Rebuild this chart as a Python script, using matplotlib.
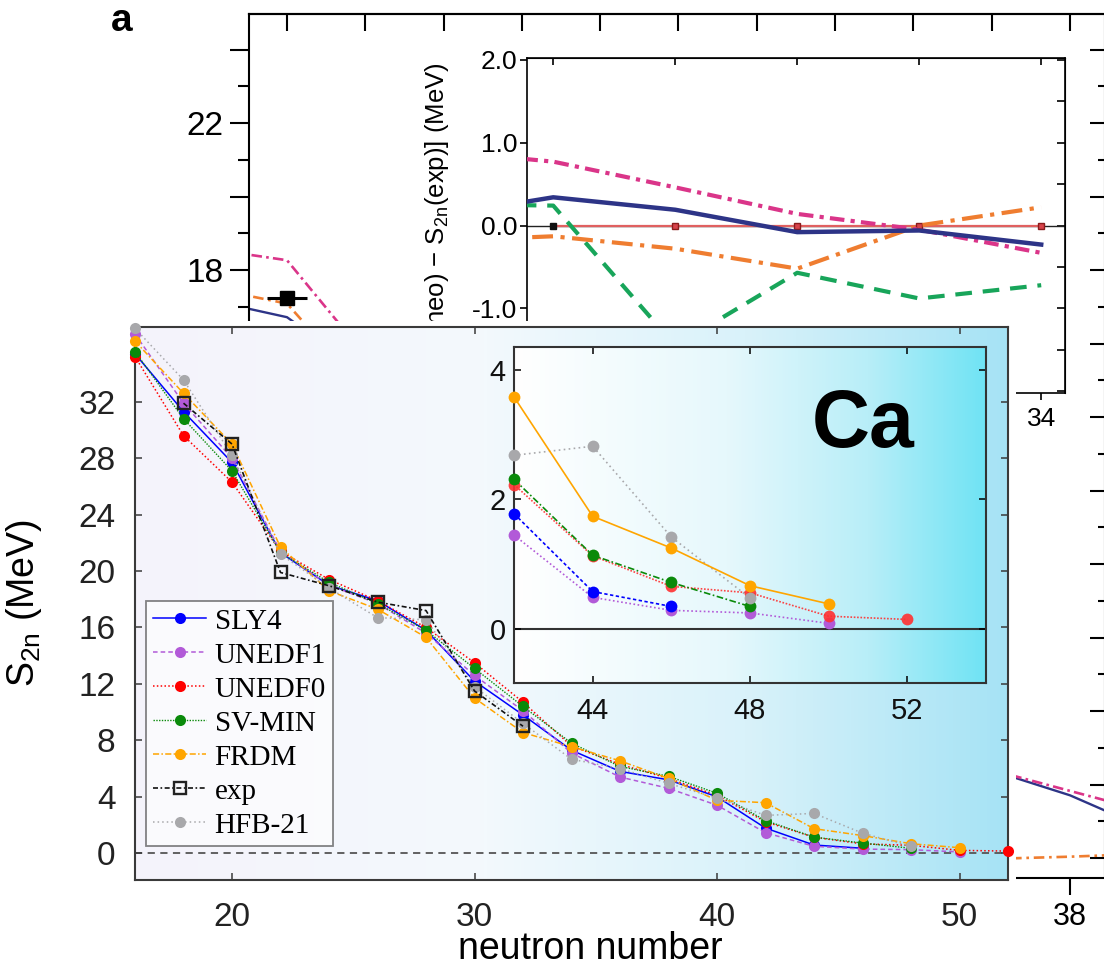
import numpy as np
import matplotlib
matplotlib.use('Agg')
import matplotlib.pyplot as plt
from matplotlib.colors import LinearSegmentedColormap
from matplotlib.ticker import MultipleLocator, FixedLocator, FuncFormatter

plt.rcParams.update({
    'font.family': 'Liberation Sans',
    'mathtext.default': 'regular',
})

W, H = 1104, 968

# ---- panel a: S2n vs N (only the uncovered bits are drawn) ----
n_a = [27, 28, 29, 37, 38, 39]
s2n_a_navy = [17.19, 16.72, 15.2, 4.39, 3.71, 2.78]
s2n_a_pink = [18.58, 18.27, 15.68, 4.40, 3.83, 3.26]
s2n_a_orange = [17.52, 17.09, 14.7, 1.98, 2.04, 2.12]
n_a_exp = [28]
s2n_a_exp = [17.24]
n_a_exp_err = [0.26]

# ---- panel a inset: S2n(theo) - S2n(exp) ----
n_diff = [25, 26, 28, 30, 32, 34]
diff_navy = [0.22, 0.34, 0.19, -0.08, -0.06, -0.23]
diff_pink = [0.84, 0.77, 0.46, 0.14, -0.05, -0.33]
diff_orange = [-0.16, -0.13, -0.28, -0.52, 0.0, 0.22]
diff_green = [0.25, 0.24, -1.45, -0.57, -0.88, -0.72]
n_diff_exp = [26, 28, 30, 32, 34]
diff_exp = [0.0, 0.0, 0.0, 0.0, 0.0]

# ---- Ca two-neutron separation energies (MeV) ----
nan = np.nan
n_ca = [16, 18, 20, 22, 24, 26, 28, 30, 32, 34, 36, 38, 40, 42, 44, 46, 48, 50, 52]
s2n_sly4 = [35.4, 31.3, 27.7, 21.3, 19.0, 17.9, 15.8, 12.2, 9.8, 7.3, 5.8, 5.2, 4.0,
            1.78, 0.58, 0.35, nan, nan, nan]
s2n_unedf1 = [36.8, 31.9, 28.0, 21.4, 19.0, 17.7, 15.6, 12.6, 10.1, 7.1, 5.4, 4.6, 3.4,
              1.45, 0.49, 0.29, 0.25, 0.09, nan]
s2n_unedf0 = [35.2, 29.6, 26.3, 21.4, 19.4, 17.9, 16.0, 13.5, 10.7, 7.6, 6.3, 5.3, 4.1,
              2.23, 1.13, 0.66, 0.56, 0.20, 0.15]
s2n_svmin = [35.55, 30.8, 27.1, 21.3, 19.2, 17.7, 15.8, 13.1, 10.4, 7.8, 6.15, 5.45, 4.25,
             2.31, 1.14, 0.72, 0.35, nan, nan]
s2n_frdm = [36.3, 32.6, 29.0, 21.7, 18.6, 17.3, 15.3, 11.0, 8.55, 7.55, 6.55, 5.3, 3.75,
            3.58, 1.74, 1.25, 0.67, 0.39, nan]
s2n_exp = [nan, 31.9, 29.0, 19.9, 18.96, 17.8, 17.2, 11.5, 9.0, nan, nan, nan, nan,
           nan, nan, nan, nan, nan, nan]
s2n_hfb21 = [37.2, 33.55, 28.2, 21.2, 18.8, 16.7, 16.55, 11.8, 9.2, 6.66, 6.0, 4.95, 3.9,
             2.68, 2.82, 1.42, 0.48, nan, nan]


def rect_px(x0, y0, x1, y1):
    """Axes rectangle from pixel corners (origin top-left)."""
    return [x0 / W, 1 - y1 / H, (x1 - x0) / W, (y1 - y0) / H]


def only(values, fmt):
    """Tick formatter that labels just the listed values."""
    return FuncFormatter(lambda v, p: fmt.format(v)
                         if any(abs(v - k) < 1e-6 for k in values) else '')


fig = plt.figure(figsize=(W / 100, H / 100), dpi=100)

# ================= panel a (background figure) =================
NAVY, PINK, ORANGE, GREEN = '#2d3487', '#da3589', '#ef7d30', '#18a55a'

ax_a = fig.add_axes(rect_px(249, 14, 1105, 878))
ax_a.set_xlim(27.515, 38.447)
ax_a.set_ylim(1.46, 24.97)
ax_a.plot(n_a, s2n_a_navy, color=NAVY, lw=1.7)
ax_a.plot(n_a, s2n_a_pink, color=PINK, lw=1.9, dashes=(4, 1.6, 1, 1.6))
ax_a.plot(n_a, s2n_a_orange, color=ORANGE, lw=1.9, dashes=(4, 1.8, 1, 1.8))
ax_a.errorbar(n_a_exp, s2n_a_exp, xerr=n_a_exp_err, fmt='s', color='black',
              ms=10, elinewidth=2.2, capsize=0)
for s in ax_a.spines.values():
    s.set_linewidth(1.5)
ax_a.xaxis.set_major_locator(FixedLocator(range(28, 39, 2)))
ax_a.xaxis.set_major_formatter(only([38], '{:.0f}'))
ax_a.tick_params(axis='x', direction='out', length=12, width=1.5,
                 labelsize=22, pad=5)
ax_a.yaxis.set_major_locator(MultipleLocator(2))
ax_a.yaxis.set_minor_locator(MultipleLocator(1))
ax_a.yaxis.set_major_formatter(only([18, 22], '{:.0f}'))
ax_a.tick_params(axis='y', which='major', direction='out', length=13.5,
                 width=1.5, labelsize=24, pad=5)
ax_a.tick_params(axis='y', which='minor', direction='out', length=8, width=1.5)
top_a = ax_a.secondary_xaxis('top')
top_a.xaxis.set_major_locator(MultipleLocator(1))
top_a.tick_params(direction='in', length=12, width=1.5, labeltop=False)
top_a.spines['top'].set_linewidth(1.5)
right_a = ax_a.secondary_yaxis('right')
right_a.yaxis.set_major_locator(MultipleLocator(2))
right_a.yaxis.set_minor_locator(MultipleLocator(1))
right_a.tick_params(which='major', direction='in', length=11, width=1.5,
                    labelright=False)
right_a.tick_params(which='minor', direction='in', length=5, width=1.5)

# inset of panel a: theory minus experiment
ax_d = fig.add_axes(rect_px(527, 58, 1065, 393))
ax_d.set_xlim(25.57, 34.39)
ax_d.set_ylim(-2.02, 2.02)
ax_d.axhline(0, color='#222222', lw=1.0, zorder=1)
ax_d.plot(n_diff_exp, diff_exp, color='#e06060', lw=1.6, zorder=2)
ax_d.plot(n_diff_exp[1:], diff_exp[1:], 's', color='#d8434b', mec='#8a1c1c',
          ms=5, zorder=3)
ax_d.plot(n_diff_exp[:1], diff_exp[:1], 's', color='#111111', ms=4, zorder=3)
ax_d.plot(n_diff, diff_green, color=GREEN, lw=3, dashes=(4, 2.6), zorder=4)
ax_d.plot(n_diff, diff_orange, color=ORANGE, lw=3, dashes=(5, 1.8, 1, 1.8), zorder=4)
ax_d.plot(n_diff, diff_pink, color=PINK, lw=3, dashes=(3.5, 1.5, 1, 1.5), zorder=4)
ax_d.plot(n_diff, diff_navy, color=NAVY, lw=3.2, zorder=5)
for s in ax_d.spines.values():
    s.set_linewidth(1.2)
ax_d.xaxis.set_major_locator(FixedLocator([26, 28, 30, 32, 34]))
ax_d.xaxis.set_major_formatter(only([34], '{:.0f}'))
ax_d.tick_params(axis='x', direction='out', length=5, width=1.2,
                 labelsize=19, pad=5)
ax_d.yaxis.set_major_locator(FixedLocator([-2.0, -1.0, 0.0, 1.0, 2.0]))
ax_d.yaxis.set_major_formatter(only([-1.0, 0.0, 1.0, 2.0], '{:.1f}'))
ax_d.tick_params(axis='y', direction='out', length=5, width=1.2,
                 labelsize=19, pad=2)
top_d = ax_d.secondary_xaxis('top')
top_d.xaxis.set_major_locator(FixedLocator([26, 28, 30, 32, 34]))
top_d.tick_params(direction='in', length=5, width=1.2, labeltop=False)
right_d = ax_d.secondary_yaxis('right')
right_d.yaxis.set_major_locator(MultipleLocator(0.5))
right_d.tick_params(direction='in', length=6, width=1.2, labelright=False)
ax_d.text(437 / W, 1 - 62 / H, '[S$_{2n}$(theo) \u2212 S$_{2n}$(exp)] (MeV)',
          transform=fig.transFigure, rotation=90, ha='center', va='top',
          fontsize=18.5)

fig.text(122 / W, 1 - 21 / H, 'a', fontsize=28, fontweight='bold',
         ha='center', va='center')

# white sheet the Ca chart sits on
cover = fig.add_axes(rect_px(0, 321, 1016, 968))
cover.set_facecolor('white')
cover.set_xticks([])
cover.set_yticks([])
for s in cover.spines.values():
    s.set_visible(False)

# ================= Ca chart =================
SPINE = '#3a3a3a'
series = [
    ('SLY4', s2n_sly4, dict(color='#0000ff', ls='-', lw=1.1)),
    ('UNEDF1', s2n_unedf1, dict(color='#b25ad8', ls=(0, (3, 2)), lw=1.1)),
    ('UNEDF0', s2n_unedf0, dict(color='#ff0000', ls=(0, (1, 1.5)), lw=1.1)),
    ('SV-MIN', s2n_svmin, dict(color='#0a8a0a', ls=(0, (1, 1)), lw=1.0)),
    ('FRDM', s2n_frdm, dict(color='#ffa500', ls=(0, (4, 1.5, 1, 1.5)), lw=1.1)),
]

ax = fig.add_axes(rect_px(135, 327, 1008, 880))
grad = LinearSegmentedColormap.from_list(
    'ca_bg', [(0, '#f5f3fb'), (0.4, '#f3f9fd'), (0.7, '#d9f2fa'), (1, '#a6e3f5')])
ax.imshow(np.linspace(0, 1, 256)[None, :], cmap=grad, extent=[0, 1, 0, 1],
          transform=ax.transAxes, aspect='auto', interpolation='bicubic', zorder=0)
ax.axhline(0, color='#555555', lw=1.3, ls=(0, (4, 3)), zorder=1)

handles = []
for name, vals, style in series:
    h, = ax.plot(n_ca, vals, marker='o', ms=8, mec='none', label=name,
                 clip_on=False, zorder=3, **style)
    handles.append(h)
h_exp, = ax.plot(n_ca, s2n_exp, color='#111111', ls=(0, (3, 1.5, 1, 1.5)), lw=1.2,
                 marker='s', ms=8.5, mfc='none', mec='#222222', mew=1.7,
                 label='exp', zorder=4)
h_hfb, = ax.plot(n_ca, s2n_hfb21, color='#a8a8ab', ls=(0, (1, 2)), lw=1.1,
                 marker='o', ms=8, mec='none', label='HFB-21',
                 clip_on=False, zorder=3.5)
handles += [h_exp, h_hfb]

ax.set_xlim(16, 52)
ax.set_ylim(-1.9, 37.3)
ax.set_xticks([20, 30, 40, 50])
ax.set_yticks(range(0, 33, 4))
for s in ax.spines.values():
    s.set_linewidth(1.5)
    s.set_color(SPINE)
ax.tick_params(axis='both', direction='in', length=5, width=1.1, color=SPINE,
               top=True, right=True, labelsize=24, labelcolor='#222222')
ax.tick_params(axis='x', pad=16)
ax.tick_params(axis='y', pad=14)
ax.set_xlabel('neutron number', fontsize=27)
ax.xaxis.set_label_coords(0.522, -0.092)
ax.set_ylabel('S$_{2n}$ (MeV)', fontsize=27)
ax.yaxis.set_label_coords(-0.104, 0.5)

leg = ax.legend(handles, [h.get_label() for h in handles], loc='lower left',
                bbox_to_anchor=(0.0126, 0.0615), borderaxespad=0,
                prop={'family': 'Liberation Serif', 'size': 21},
                fancybox=False, edgecolor='#333333', facecolor='white',
                framealpha=0.6, handlelength=1.8, handletextpad=0.3,
                labelspacing=0.26, borderpad=0.25, numpoints=1)
leg.get_frame().set_linewidth(1.3)

# zoom on the drip-line region
axin = fig.add_axes(rect_px(514, 347, 986, 683))
grad_in = LinearSegmentedColormap.from_list(
    'ca_in', [(0, '#ffffff'), (0.45, '#e6f8fc'), (0.75, '#b8eef8'), (1, '#6fe3f4')])
axin.imshow(np.linspace(0, 1, 256)[None, :], cmap=grad_in, extent=[0, 1, 0, 1],
            transform=axin.transAxes, aspect='auto', interpolation='bicubic', zorder=0)
axin.axhline(0, color='#333333', lw=1.5, zorder=1)

tail = np.array(n_ca) >= 42
n_tail = np.array(n_ca)[tail]
inset_styles = [
    (s2n_unedf1, dict(color='#b25ad8', ls=(0, (1, 1.5)))),
    (s2n_sly4, dict(color='#0000ff', ls=(0, (2, 1.5)))),
    (s2n_unedf0, dict(color='#ff3030', ls=(0, (1, 1)), alpha=0.9)),
    (s2n_svmin, dict(color='#0a8a0a', ls=(0, (4, 1.5, 1, 1.5)))),
    (s2n_hfb21, dict(color='#a8a8ab', ls=(0, (1, 2)))),
    (s2n_frdm, dict(color='#ffa500', ls='-')),
]
for vals, style in inset_styles:
    axin.plot(n_tail, np.array(vals)[tail], marker='o', ms=8.5, mec='none',
              lw=1.2, clip_on=False, zorder=3, **style)

axin.set_xlim(42, 54)
axin.set_ylim(-0.83, 4.35)
axin.set_xticks([44, 48, 52])
axin.set_yticks([0, 2, 4])
for s in axin.spines.values():
    s.set_linewidth(1.5)
    s.set_color('#333333')
axin.tick_params(axis='both', direction='in', length=5, width=1.1,
                 top=True, right=True, labelsize=21, labelcolor='#111111')
axin.tick_params(axis='x', pad=10)
axin.tick_params(axis='y', pad=6)
axin.text(0.739, 0.702, 'Ca', transform=axin.transAxes, fontsize=58,
          fontweight='bold', ha='center', va='baseline')

fig.savefig('out.png', dpi=100)
